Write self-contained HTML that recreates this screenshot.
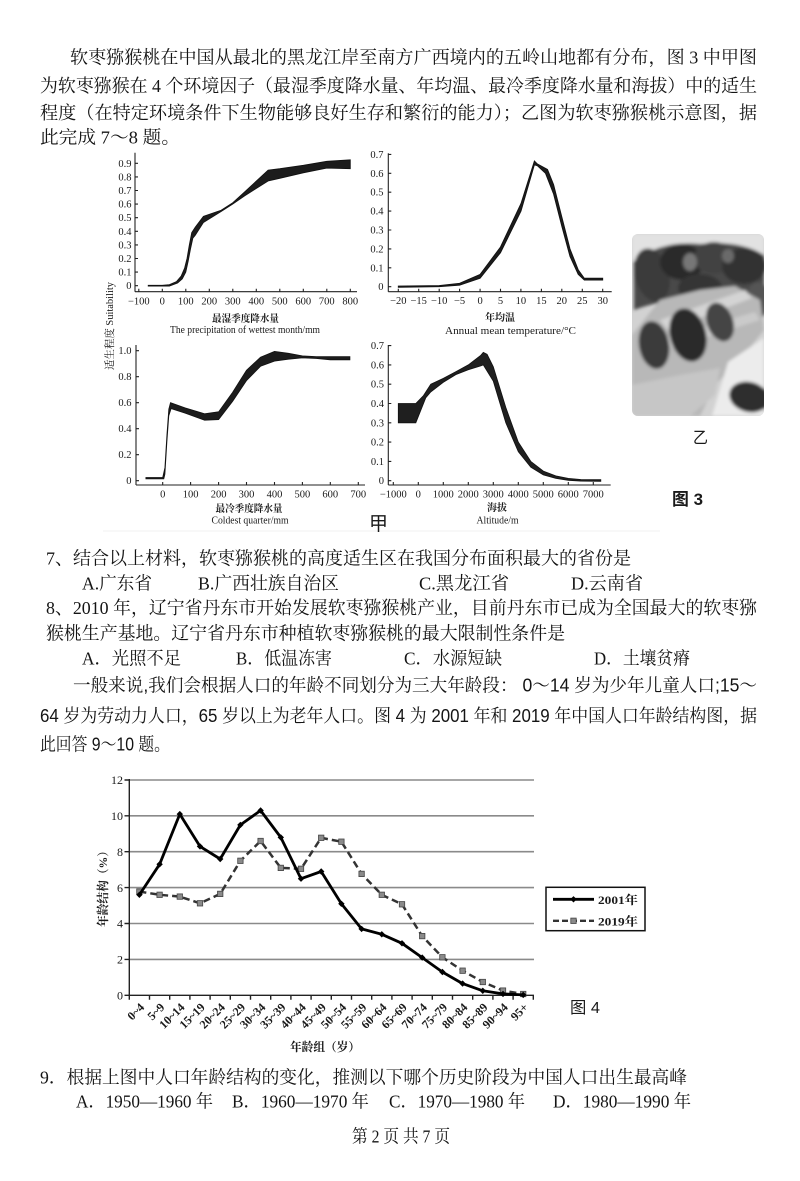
<!DOCTYPE html>
<html>
<head>
<meta charset="utf-8">
<style>
html,body{margin:0;padding:0;background:#fff;}
svg{display:block;}
</style>
</head>
<body>
<svg width="800" height="1181" viewBox="0 0 800 1181" xmlns="http://www.w3.org/2000/svg">
<style>
.t{font-family:"Liberation Serif","Noto Serif CJK SC",serif;font-size:18px;fill:#141414;}
.p{font-family:"Liberation Sans","Noto Serif CJK SC",sans-serif;font-size:18px;fill:#141414;}
.ax{font-family:"Liberation Serif","Noto Serif CJK SC",serif;font-size:10.5px;fill:#1a1a1a;}
.ct{font-family:"Liberation Serif","Noto Serif CJK SC",serif;font-size:10px;fill:#1a1a1a;font-weight:bold;}
.pl{font-family:"Liberation Serif","Noto Serif CJK SC",serif;font-size:12px;fill:#1a1a1a;font-weight:bold;}
.py{font-family:"Liberation Serif","Noto Serif CJK SC",serif;font-size:12px;fill:#1a1a1a;}
.sn{font-family:"Liberation Sans","Noto Sans CJK SC",sans-serif;fill:#1a1a1a;}
</style>
<defs>
<path id="dm" d="M0,-3.2 L3.2,0 L0,3.2 L-3.2,0Z" fill="#000"/>
<rect id="sq" x="-2.7" y="-2.7" width="5.4" height="5.4" fill="#8a8a8a" stroke="#444" stroke-width="0.8"/>
<clipPath id="phc"><rect x="632" y="234" width="132" height="182" rx="6"/></clipPath>
<filter id="bl" x="-5%" y="-5%" width="110%" height="110%"><feGaussianBlur stdDeviation="1.6"/></filter>
</defs>

<!-- Top paragraph -->
<text class="t" x="70" y="63.5" textLength="687" lengthAdjust="spacingAndGlyphs">软枣猕猴桃在中国从最北的黑龙江岸至南方广西境内的五岭山地都有分布，图 3 中甲图</text>
<text class="t" x="40" y="92" textLength="717" lengthAdjust="spacingAndGlyphs">为软枣猕猴在 4 个环境因子（最湿季度降水量、年均温、最冷季度降水量和海拔）中的适生</text>
<text class="t" x="40" y="119" textLength="717" lengthAdjust="spacingAndGlyphs">程度（在特定环境条件下生物能够良好生存和繁衍的能力）；乙图为软枣猕猴桃示意图，据</text>
<text class="t" x="40" y="143.5" textLength="140" lengthAdjust="spacingAndGlyphs">此完成 7～8 题。</text>

<line x1="103" y1="531" x2="660" y2="531" stroke="#f0f0f0" stroke-width="1"/>

<!-- ===== Chart TL ===== -->
<g stroke="#222" stroke-width="1.1" fill="none">
<line x1="135" y1="152.7" x2="135" y2="291.7"/>
<line x1="135" y1="291.7" x2="357" y2="291.7"/>
<path d="M135,285.7h3M135,272.1h3M135,258.5h3M135,244.9h3M135,231.3h3M135,217.7h3M135,204.1h3M135,190.5h3M135,176.9h3M135,163.3h3"/>
<path d="M138.8,291.7v-3M162.3,291.7v-3M185.8,291.7v-3M209.3,291.7v-3M232.8,291.7v-3M256.3,291.7v-3M279.8,291.7v-3M303.3,291.7v-3M326.8,291.7v-3M350.3,291.7v-3"/>
</g>
<path d="M148.2,285.3 L162.3,285.3 L169.4,284.6 L176.4,281.6 L181.1,276.2 L184.6,268.0 L187.0,258.5 L189.3,244.9 L191.7,232.7 L195.2,227.2 L203.4,216.3 L221.1,210.2 L232.8,202.7 L244.6,191.9 L268.1,170.1 L279.8,168.7 L303.3,165.3 L326.8,161.3 L350.3,159.8 L350.3,168.7 L326.8,168.1 L303.3,172.8 L279.8,178.3 L268.1,181.0 L244.6,195.9 L232.8,204.1 L221.1,211.6 L203.4,222.5 L195.2,235.4 L192.9,238.1 L190.5,249.0 L188.2,261.2 L185.8,272.1 L182.3,278.9 L177.6,283.0 L169.4,286.1 L162.3,286.1 L148.2,286.1 Z" fill="#1c1c1c" stroke="#111" stroke-width="0.8"/>
<g class="ax" text-anchor="end">
<text x="131.5" y="289.2">0</text><text x="131.5" y="275.6">0.1</text><text x="131.5" y="262">0.2</text><text x="131.5" y="248.4">0.3</text><text x="131.5" y="234.8">0.4</text><text x="131.5" y="221.2">0.5</text><text x="131.5" y="207.6">0.6</text><text x="131.5" y="194">0.7</text><text x="131.5" y="180.4">0.8</text><text x="131.5" y="166.8">0.9</text>
</g>
<g class="ax" text-anchor="middle">
<text x="138.8" y="304.5">−100</text><text x="162.3" y="304.5">0</text><text x="185.8" y="304.5">100</text><text x="209.3" y="304.5">200</text><text x="232.8" y="304.5">300</text><text x="256.3" y="304.5">400</text><text x="279.8" y="304.5">500</text><text x="303.3" y="304.5">600</text><text x="326.8" y="304.5">700</text><text x="350.3" y="304.5">800</text>
</g>
<text class="ct" x="212" y="322" textLength="67" lengthAdjust="spacingAndGlyphs">最湿季度降水量</text>
<text class="ax" x="170" y="333" textLength="150" lengthAdjust="spacingAndGlyphs">The precipitation of wettest month/mm</text>

<!-- ===== Chart TR ===== -->
<g stroke="#222" stroke-width="1.1" fill="none">
<line x1="388.3" y1="153.3" x2="388.3" y2="291.7"/>
<line x1="388.3" y1="291.7" x2="611.7" y2="291.7"/>
<path d="M388.3,286.7h3M388.3,267.8h3M388.3,248.9h3M388.3,230h3M388.3,211.1h3M388.3,192.2h3M388.3,173.3h3M388.3,154.4h3"/>
<path d="M398.3,291.7v-3M418.7,291.7v-3M439.2,291.7v-3M459.6,291.7v-3M480.1,291.7v-3M500.5,291.7v-3M520.9,291.7v-3M541.4,291.7v-3M561.8,291.7v-3M582.3,291.7v-3M602.7,291.7v-3"/>
</g>
<path d="M398.3,286.1 L439.2,285.6 L459.6,283.3 L480.1,274.4 L500.5,247.0 L521.0,203.5 L534.4,161.0 L537.3,163.9 L547.5,169.5 L553.6,184.6 L561.8,216.8 L570.0,248.9 L578.2,269.7 L584.3,278.2 L602.7,278.2 L602.7,280.1 L584.3,280.1 L578.2,274.4 L570.0,256.5 L561.8,226.2 L553.6,194.1 L545.5,173.3 L537.3,165.7 L534.4,164.8 L521.0,211.1 L500.5,252.7 L480.1,278.2 L459.6,285.2 L439.2,286.7 L398.3,287.3 Z" fill="#1c1c1c" stroke="#111" stroke-width="0.9"/>
<g class="ax" text-anchor="end">
<text x="383.5" y="290.2">0</text><text x="383.5" y="271.3">0.1</text><text x="383.5" y="252.4">0.2</text><text x="383.5" y="233.5">0.3</text><text x="383.5" y="214.6">0.4</text><text x="383.5" y="195.7">0.5</text><text x="383.5" y="176.8">0.6</text><text x="383.5" y="157.9">0.7</text>
</g>
<g class="ax" text-anchor="middle">
<text x="398.3" y="304">−20</text><text x="418.7" y="304">−15</text><text x="439.2" y="304">−10</text><text x="459.6" y="304">−5</text><text x="480.1" y="304">0</text><text x="500.5" y="304">5</text><text x="520.9" y="304">10</text><text x="541.4" y="304">15</text><text x="561.8" y="304">20</text><text x="582.3" y="304">25</text><text x="602.7" y="304">30</text>
</g>
<text class="ct" x="500" y="321" text-anchor="middle" textLength="30" lengthAdjust="spacingAndGlyphs">年均温</text>
<text class="ax" x="445" y="334" textLength="131" lengthAdjust="spacingAndGlyphs">Annual mean temperature/°C</text>

<text class="ax" transform="translate(113,326) rotate(-90)" text-anchor="middle" textLength="88" lengthAdjust="spacingAndGlyphs">适生程度 Suitability</text>

<!-- ===== Chart BL ===== -->
<g stroke="#222" stroke-width="1.1" fill="none">
<line x1="136" y1="345" x2="136" y2="485"/>
<line x1="136" y1="485" x2="365" y2="485"/>
<path d="M136,480.7h3M136,454.7h3M136,428.7h3M136,402.7h3M136,376.7h3M136,350.7h3"/>
<path d="M162.7,485v-3M190.6,485v-3M218.6,485v-3M246.5,485v-3M274.5,485v-3M302.4,485v-3M330.3,485v-3M358.3,485v-3"/>
</g>
<path d="M145.9,477.5 L162.7,477.5 L164.9,467.7 L166.9,435.2 L168.8,409.2 L170.5,402.7 L185.1,407.9 L204.6,413.8 L218.6,411.8 L232.6,392.3 L246.5,370.2 L260.5,357.2 L274.5,351.4 L288.4,353.3 L302.4,355.9 L316.4,356.6 L330.3,356.6 L349.9,356.6 L349.9,359.8 L330.3,359.8 L316.4,358.5 L302.4,357.9 L288.4,359.2 L274.5,361.1 L260.5,366.3 L246.5,380.6 L232.6,401.4 L218.6,419.6 L204.6,420.2 L185.1,413.1 L171.1,408.6 L168.8,415.7 L166.9,441.7 L164.9,474.2 L163.8,478.8 L162.7,478.8 L145.9,478.8 Z" fill="#1c1c1c" stroke="#111" stroke-width="0.8"/>
<g class="ax" text-anchor="end">
<text x="131.5" y="484.2">0</text><text x="131.5" y="458.2">0.2</text><text x="131.5" y="432.2">0.4</text><text x="131.5" y="406.2">0.6</text><text x="131.5" y="380.2">0.8</text><text x="131.5" y="354.2">1.0</text>
</g>
<g class="ax" text-anchor="middle">
<text x="162.7" y="497.5">0</text><text x="190.6" y="497.5">100</text><text x="218.6" y="497.5">200</text><text x="246.5" y="497.5">300</text><text x="274.5" y="497.5">400</text><text x="302.4" y="497.5">500</text><text x="330.3" y="497.5">600</text><text x="358.3" y="497.5">700</text>
</g>
<text class="ct" x="249" y="512" text-anchor="middle" textLength="67" lengthAdjust="spacingAndGlyphs">最冷季度降水量</text>
<text class="ax" x="250" y="523.5" text-anchor="middle" textLength="77" lengthAdjust="spacingAndGlyphs">Coldest quarter/mm</text>

<!-- ===== Chart BR ===== -->
<g stroke="#222" stroke-width="1.1" fill="none">
<line x1="388.3" y1="345" x2="388.3" y2="485"/>
<line x1="388.3" y1="485" x2="610.7" y2="485"/>
<path d="M388.3,480.7h3M388.3,461.4h3M388.3,442.1h3M388.3,422.8h3M388.3,403.5h3M388.3,384.2h3M388.3,364.9h3M388.3,345.6h3"/>
<path d="M393.3,485v-3M418.3,485v-3M443.3,485v-3M468.3,485v-3M493.3,485v-3M518.3,485v-3M543.3,485v-3M568.3,485v-3M593.3,485v-3"/>
</g>
<path d="M398.3,403.5 L415.8,403.5 L423.3,395.8 L430.8,384.2 L443.3,378.4 L455.8,371.7 L468.3,364.9 L480.8,355.3 L483.3,352.4 L487.1,354.3 L493.3,366.8 L505.8,407.4 L518.3,442.1 L530.8,461.4 L543.3,471.1 L555.8,475.9 L568.3,478.4 L580.8,479.5 L600.8,479.7 L600.8,481.3 L580.8,481.1 L568.3,480.3 L555.8,478.4 L543.3,474.9 L530.8,467.2 L518.3,451.7 L505.8,422.8 L493.3,381.2 L483.3,364.9 L480.8,365.9 L468.3,369.7 L455.8,374.6 L443.3,382.3 L430.8,391.9 L425.8,397.7 L415.8,422.8 L398.3,422.8 Z" fill="#1f1f1f" stroke="#111" stroke-width="0.8"/>
<g class="ax" text-anchor="end">
<text x="384" y="484.2">0</text><text x="384" y="464.9">0.1</text><text x="384" y="445.6">0.2</text><text x="384" y="426.3">0.3</text><text x="384" y="407">0.4</text><text x="384" y="387.7">0.5</text><text x="384" y="368.4">0.6</text><text x="384" y="349.1">0.7</text>
</g>
<g class="ax" text-anchor="middle">
<text x="393.3" y="497.5">−1000</text><text x="418.3" y="497.5">0</text><text x="443.3" y="497.5">1000</text><text x="468.3" y="497.5">2000</text><text x="493.3" y="497.5">3000</text><text x="518.3" y="497.5">4000</text><text x="543.3" y="497.5">5000</text><text x="568.3" y="497.5">6000</text><text x="593.3" y="497.5">7000</text>
</g>
<text class="ct" x="497" y="511" text-anchor="middle" textLength="20" lengthAdjust="spacingAndGlyphs">海拔</text>
<text class="ax" x="497.5" y="523.5" text-anchor="middle" textLength="42" lengthAdjust="spacingAndGlyphs">Altitude/m</text>

<text class="sn" x="369" y="530" font-size="19" textLength="19" lengthAdjust="spacingAndGlyphs">甲</text>

<!-- ===== Photo 乙 ===== -->
<g clip-path="url(#phc)">
<rect x="632" y="234" width="132" height="182" fill="#d2d2d2"/>
<g filter="url(#bl)">
<rect x="632" y="234" width="132" height="26" fill="#e2e2e2"/>
<path d="M634,262 Q660,240 700,244 Q740,240 764,255 L764,300 Q720,305 690,300 Q660,300 634,310 Z" fill="#4a4a4a"/>
<ellipse cx="652" cy="275" rx="17" ry="27" fill="#3a3a3a" transform="rotate(-15 652 275)"/>
<ellipse cx="682" cy="262" rx="22" ry="18" fill="#2c2c2c"/>
<ellipse cx="714" cy="258" rx="20" ry="16" fill="#424242"/>
<ellipse cx="744" cy="266" rx="22" ry="18" fill="#333"/>
<ellipse cx="700" cy="288" rx="22" ry="14" fill="#363636"/>
<ellipse cx="758" cy="300" rx="12" ry="18" fill="#555"/>
<ellipse cx="690" cy="262" rx="7" ry="9" fill="#777"/>
<ellipse cx="728" cy="256" rx="6" ry="7" fill="#6a6a6a"/>
<path d="M632,335 L660,300 L700,290 L735,286 L760,300 L764,330 L740,360 L715,385 L700,416 L632,416 Z" fill="#b8b8b8"/>
<path d="M660,320 L745,290 L752,298 L668,330 Z" fill="#d4d4d4"/>
<path d="M665,338 L755,312 L760,320 L672,348 Z" fill="#cacaca"/>
<ellipse cx="654" cy="345" rx="15" ry="24" fill="#3a3a3a" transform="rotate(-10 654 345)"/>
<ellipse cx="688" cy="335" rx="18" ry="27" fill="#2a2a2a" transform="rotate(-15 688 335)"/>
<ellipse cx="720" cy="322" rx="13" ry="20" fill="#454545" transform="rotate(-20 720 322)"/>
<path d="M632,385 L680,375 L720,368 L715,395 L690,416 L632,416 Z" fill="#c6c6c6"/>
<path d="M728,362 L764,338 L764,416 L712,416 Z" fill="#ececec"/>
<ellipse cx="749" cy="397" rx="20" ry="15" fill="#2e2e2e" transform="rotate(15 749 397)"/>
</g>
</g>
<text class="sn" x="693" y="443" font-size="16" textLength="15" lengthAdjust="spacingAndGlyphs">乙</text>
<text class="sn" x="672" y="505" font-size="17" font-weight="bold" textLength="31" lengthAdjust="spacingAndGlyphs">图 3</text>

<!-- Questions 7-8 -->
<text class="t" x="46" y="564.5" textLength="585" lengthAdjust="spacingAndGlyphs">7、结合以上材料，软枣猕猴桃的高度适生区在我国分布面积最大的省份是</text>
<text class="t" x="82" y="589.5" textLength="70" lengthAdjust="spacingAndGlyphs">A.广东省</text>
<text class="t" x="198" y="589.5" textLength="141" lengthAdjust="spacingAndGlyphs">B.广西壮族自治区</text>
<text class="t" x="419" y="589.5" textLength="90" lengthAdjust="spacingAndGlyphs">C.黑龙江省</text>
<text class="t" x="571" y="589.5" textLength="72" lengthAdjust="spacingAndGlyphs">D.云南省</text>
<text class="t" x="46" y="614" textLength="711" lengthAdjust="spacingAndGlyphs">8、2010 年，辽宁省丹东市开始发展软枣猕猴桃产业，目前丹东市已成为全国最大的软枣猕</text>
<text class="t" x="46" y="639.5" textLength="519" lengthAdjust="spacingAndGlyphs">猴桃生产基地。辽宁省丹东市种植软枣猕猴桃的最大限制性条件是</text>
<text class="t" x="82" y="664.5" textLength="99" lengthAdjust="spacingAndGlyphs">A．光照不足</text>
<text class="t" x="236" y="664.5" textLength="96" lengthAdjust="spacingAndGlyphs">B．低温冻害</text>
<text class="t" x="404" y="664.5" textLength="98" lengthAdjust="spacingAndGlyphs">C．水源短缺</text>
<text class="t" x="594" y="664.5" textLength="96" lengthAdjust="spacingAndGlyphs">D．土壤贫瘠</text>

<!-- Paragraph 2 -->
<text class="p" x="73" y="691.5" textLength="684" lengthAdjust="spacingAndGlyphs">一般来说,我们会根据人口的年龄不同划分为三大年龄段： 0～14 岁为少年儿童人口;15～</text>
<text class="p" x="40" y="722" textLength="717" lengthAdjust="spacingAndGlyphs">64 岁为劳动力人口，65 岁以上为老年人口。图 4 为 2001 年和 2019 年中国人口年龄结构图，据</text>
<text class="p" x="40" y="750.5" textLength="130" lengthAdjust="spacingAndGlyphs">此回答 9～10 题。</text>

<!-- ===== Population chart ===== -->
<g stroke="#8a8a8a" stroke-width="1.6">
<line x1="129.3" y1="959.4" x2="534" y2="959.4"/>
<line x1="129.3" y1="923.5" x2="534" y2="923.5"/>
<line x1="129.3" y1="887.6" x2="534" y2="887.6"/>
<line x1="129.3" y1="851.7" x2="534" y2="851.7"/>
<line x1="129.3" y1="815.8" x2="534" y2="815.8"/>
<line x1="129.3" y1="780" x2="534" y2="780"/>
</g>
<g stroke="#222" stroke-width="1.4" fill="none">
<line x1="129.3" y1="779" x2="129.3" y2="996"/>
<line x1="129.3" y1="995.3" x2="534" y2="995.3"/>
<path d="M124.5,995.3h4.8M124.5,959.4h4.8M124.5,923.5h4.8M124.5,887.6h4.8M124.5,851.7h4.8M124.5,815.8h4.8M124.5,780h4.8"/>
<path d="M129.3,995.3v4.5M149.5,995.3v4.5M169.7,995.3v4.5M189.9,995.3v4.5M210.1,995.3v4.5M230.3,995.3v4.5M250.5,995.3v4.5M270.7,995.3v4.5M290.9,995.3v4.5M311.1,995.3v4.5M331.3,995.3v4.5M351.5,995.3v4.5M371.7,995.3v4.5M391.9,995.3v4.5M412.1,995.3v4.5M432.3,995.3v4.5M452.5,995.3v4.5M472.7,995.3v4.5M492.9,995.3v4.5M513.1,995.3v4.5M533.3,995.3v4.5"/>
</g>
<path d="M139.4,891.6 L159.6,894.8 L179.8,896.6 L200.0,903.3 L220.2,893.9 L240.4,860.8 L260.6,841.0 L280.8,867.9 L301.0,868.8 L321.2,837.8 L341.4,841.7 L361.6,873.9 L381.8,894.8 L402.0,904.3 L422.2,936.1 L442.4,957.3 L462.6,970.7 L482.8,982.0 L503.0,990.6 L523.2,994.0" fill="none" stroke="#333" stroke-width="2.5" stroke-dasharray="7,4"/>
<g>
<use href="#sq" x="139.4" y="891.6"/><use href="#sq" x="159.6" y="894.8"/><use href="#sq" x="179.8" y="896.6"/><use href="#sq" x="200" y="903.3"/><use href="#sq" x="220.2" y="893.9"/><use href="#sq" x="240.4" y="860.8"/><use href="#sq" x="260.6" y="841"/><use href="#sq" x="280.8" y="867.9"/><use href="#sq" x="301" y="868.8"/><use href="#sq" x="321.2" y="837.8"/><use href="#sq" x="341.4" y="841.7"/><use href="#sq" x="361.6" y="873.9"/><use href="#sq" x="381.8" y="894.8"/><use href="#sq" x="402" y="904.3"/><use href="#sq" x="422.2" y="936.1"/><use href="#sq" x="442.4" y="957.3"/><use href="#sq" x="462.6" y="970.7"/><use href="#sq" x="482.8" y="982"/><use href="#sq" x="503" y="990.6"/><use href="#sq" x="523.2" y="994"/>
</g>
<path d="M139.4,894.8 L159.6,864.3 L179.8,814.1 L200.0,846.4 L220.2,859.0 L240.4,824.9 L260.6,810.5 L280.8,837.4 L301.0,878.7 L321.2,871.5 L341.4,903.8 L361.6,928.9 L381.8,934.3 L402.0,943.3 L422.2,957.6 L442.4,972.0 L462.6,983.6 L482.8,990.8 L503.0,993.9 L523.2,994.9" fill="none" stroke="#000" stroke-width="2.8" stroke-linejoin="round"/>
<g>
<use href="#dm" x="139.4" y="894.8"/><use href="#dm" x="159.6" y="864.3"/><use href="#dm" x="179.8" y="814.1"/><use href="#dm" x="200" y="846.4"/><use href="#dm" x="220.2" y="859"/><use href="#dm" x="240.4" y="824.9"/><use href="#dm" x="260.6" y="810.5"/><use href="#dm" x="280.8" y="837.4"/><use href="#dm" x="301" y="878.7"/><use href="#dm" x="321.2" y="871.5"/><use href="#dm" x="341.4" y="903.8"/><use href="#dm" x="361.6" y="928.9"/><use href="#dm" x="381.8" y="934.3"/><use href="#dm" x="402" y="943.3"/><use href="#dm" x="422.2" y="957.6"/><use href="#dm" x="442.4" y="972"/><use href="#dm" x="462.6" y="983.6"/><use href="#dm" x="482.8" y="990.8"/><use href="#dm" x="503" y="993.9"/><use href="#dm" x="523.2" y="994.9"/>
</g>
<g class="py" text-anchor="end">
<text x="123" y="999.5">0</text><text x="123" y="963.6">2</text><text x="123" y="927.7">4</text><text x="123" y="891.8">6</text><text x="123" y="855.9">8</text><text x="123" y="820">10</text><text x="123" y="784.2">12</text>
</g>
<g class="pl" text-anchor="end">
<text transform="translate(145,1008) rotate(-45)">0~4</text>
<text transform="translate(165.2,1008) rotate(-45)">5~9</text>
<text transform="translate(185.4,1008) rotate(-45)">10~14</text>
<text transform="translate(205.6,1008) rotate(-45)">15~19</text>
<text transform="translate(225.8,1008) rotate(-45)">20~24</text>
<text transform="translate(246,1008) rotate(-45)">25~29</text>
<text transform="translate(266.2,1008) rotate(-45)">30~34</text>
<text transform="translate(286.4,1008) rotate(-45)">35~39</text>
<text transform="translate(306.6,1008) rotate(-45)">40~44</text>
<text transform="translate(326.8,1008) rotate(-45)">45~49</text>
<text transform="translate(347,1008) rotate(-45)">50~54</text>
<text transform="translate(367.2,1008) rotate(-45)">55~59</text>
<text transform="translate(387.4,1008) rotate(-45)">60~64</text>
<text transform="translate(407.6,1008) rotate(-45)">65~69</text>
<text transform="translate(427.8,1008) rotate(-45)">70~74</text>
<text transform="translate(448,1008) rotate(-45)">75~79</text>
<text transform="translate(468.2,1008) rotate(-45)">80~84</text>
<text transform="translate(488.4,1008) rotate(-45)">85~89</text>
<text transform="translate(508.6,1008) rotate(-45)">90~94</text>
<text transform="translate(528.8,1008) rotate(-45)">95+</text>
</g>
<text class="py" font-weight="bold" transform="translate(107,886) rotate(-90)" text-anchor="middle" textLength="82" lengthAdjust="spacingAndGlyphs">年龄结构（%）</text>
<text class="py" font-weight="bold" x="325" y="1051" text-anchor="middle" textLength="70" lengthAdjust="spacingAndGlyphs">年龄组（岁）</text>

<!-- Legend -->
<rect x="546" y="887.3" width="99" height="43.4" fill="#fff" stroke="#111" stroke-width="1.5"/>
<line x1="553" y1="899.3" x2="594" y2="899.3" stroke="#000" stroke-width="2.8"/>
<use href="#dm" x="573.5" y="899.3"/>
<line x1="553" y1="920.8" x2="594" y2="920.8" stroke="#333" stroke-width="2.4" stroke-dasharray="6,3"/>
<use href="#sq" x="573.5" y="920.8"/>
<text class="py" font-weight="bold" x="598" y="903.8" textLength="40" lengthAdjust="spacingAndGlyphs">2001年</text>
<text class="py" font-weight="bold" x="598" y="925.3" textLength="40" lengthAdjust="spacingAndGlyphs">2019年</text>

<text class="sn" x="570" y="1013" font-size="16" textLength="30" lengthAdjust="spacingAndGlyphs">图 4</text>

<!-- Question 9 -->
<text class="t" x="40" y="1083.5" textLength="647" lengthAdjust="spacingAndGlyphs">9．根据上图中人口年龄结构的变化，推测以下哪个历史阶段为中国人口出生最高峰</text>
<text class="t" x="76" y="1107.5" textLength="137" lengthAdjust="spacingAndGlyphs">A．1950—1960 年</text>
<text class="t" x="232" y="1107.5" textLength="137" lengthAdjust="spacingAndGlyphs">B．1960—1970 年</text>
<text class="t" x="389" y="1107.5" textLength="136" lengthAdjust="spacingAndGlyphs">C．1970—1980 年</text>
<text class="t" x="553" y="1107.5" textLength="138" lengthAdjust="spacingAndGlyphs">D．1980—1990 年</text>

<text class="t" x="352" y="1142.5" font-size="12" textLength="98" lengthAdjust="spacingAndGlyphs">第 2 页 共 7 页</text>
</svg>
</body>
</html>
